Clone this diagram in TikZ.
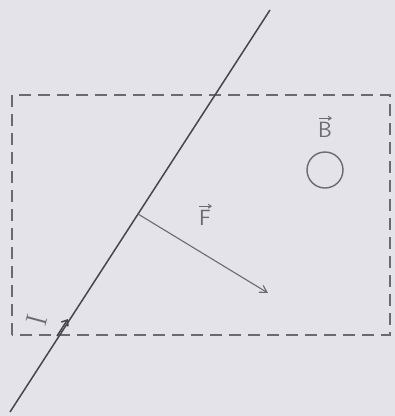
\documentclass[tikz,border=0pt]{standalone}
\usetikzlibrary{arrows.meta}
\definecolor{bg}{HTML}{E4E3E9}
\definecolor{ink}{HTML}{46464C}
\definecolor{inkl}{HTML}{6A6A72}
\begin{document}
\begin{tikzpicture}[x=1pt,y=-1pt,
  wire/.style={draw=ink,line width=1.5pt},
  box/.style={draw=inkl,line width=1.6pt,dash pattern=on 12pt off 7pt},
  force/.style={draw=inkl,line width=1.1pt,-{Straight Barb[length=7pt,width=8pt]}},
  vecbar/.style={draw=inkl,line width=1pt,-{Straight Barb[length=3pt,width=4pt]}},
  lbl/.style={text=inkl,font=\sffamily\fontsize{22}{22}\selectfont,inner sep=1pt}]
\fill[bg] (0,0) rectangle (395,416);
\useasboundingbox (0,0) rectangle (395,416);
\coordinate (bl) at (12,335);
\coordinate (tr) at (390,95);
\draw[box] (bl) rectangle (tr);
\coordinate (w1) at (10,412);
\coordinate (w2) at (270,10);
\draw[wire] (w1) -- (w2);
\coordinate (p) at (138,214);
\coordinate (q) at (268,293);
\draw[force] (p) -- (q);
\node[circle,draw=inkl,line width=1.4pt,minimum size=36pt,inner sep=0pt] (c) at (325,170) {};
\node[lbl] (bl1) at (325,130) {B};
\draw[vecbar] ([xshift=-6pt,yshift=3pt]bl1.north) -- ([xshift=7pt,yshift=3pt]bl1.north);
\node[lbl] (fl) at (205,218) {F};
\draw[vecbar] ([xshift=-6pt,yshift=3pt]fl.north) -- ([xshift=7pt,yshift=3pt]fl.north);
\node[lbl,font=\rmfamily\fontsize{30}{30}\selectfont,rotate=75] (il) at (37,320) {I};
\coordinate (a1) at (57,336);
\coordinate (a2) at (68,319);
\draw[wire,-{Straight Barb[length=5pt,width=8pt]}] (a1) -- (a2);
\end{tikzpicture}
\end{document}
